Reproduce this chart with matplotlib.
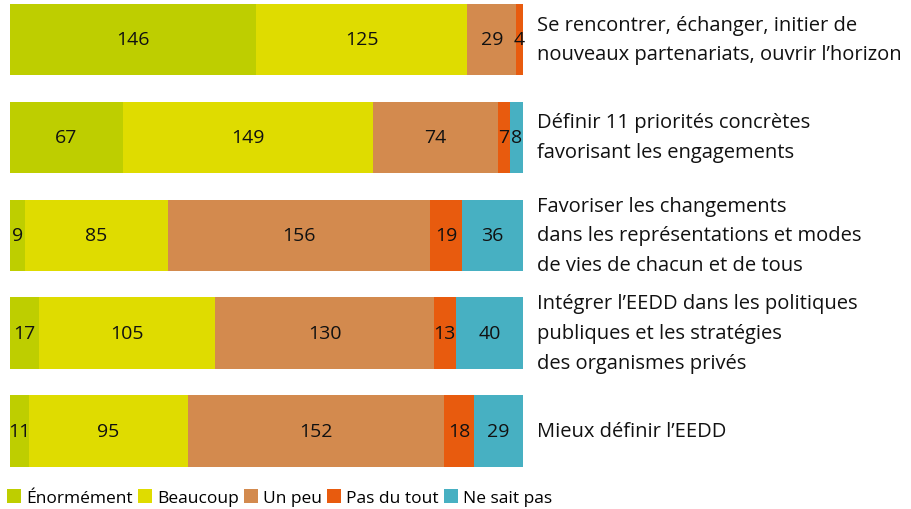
import matplotlib
matplotlib.use("Agg")
import matplotlib.pyplot as plt
from matplotlib.patches import Patch
import numpy as np

plt.rcParams['font.family'] = ['Open Sans', 'DejaVu Sans']

categories = [
    "Se rencontrer, échanger, initier de\nnouveaux partenariats, ouvrir l’horizon",
    "Définir 11 priorités concrètes\nfavorisant les engagements",
    "Favoriser les changements\ndans les représentations et modes\nde vies de chacun et de tous",
    "Intégrer l’EEDD dans les politiques\npubliques et les stratégies\ndes organismes privés",
    "Mieux définir l’EEDD",
]
series_names = ["Énormément", "Beaucoup", "Un peu", "Pas du tout", "Ne sait pas"]
enormement = [146, 67, 9, 17, 11]
beaucoup = [125, 149, 85, 105, 95]
un_peu = [29, 74, 156, 130, 152]
pas_du_tout = [4, 7, 19, 13, 18]
ne_sait_pas = [0, 8, 36, 40, 29]
colors = ["#BECE00", "#DFDC00", "#D38A4E", "#E85B0E", "#47B0C2"]

data = np.array([enormement, beaucoup, un_peu, pas_du_tout, ne_sait_pas], dtype=float)
totals = data.sum(axis=0)
pct = data / totals * 100

fig = plt.figure(figsize=(9.11, 5.10), dpi=100)
ax = fig.add_axes([10/911, 1 - 480/510, 513/911, 480/510])
y = np.arange(len(categories))
left = np.zeros(len(categories))
for i, name in enumerate(series_names):
    ax.barh(y, pct[i], left=left, height=0.73, color=colors[i], label=name)
    for j in range(len(categories)):
        if data[i, j] > 0:
            ax.text(left[j] + pct[i, j] / 2, y[j], f"{int(data[i, j])}",
                    ha='center', va='center', fontsize=14, color='#111111')
    left += pct[i]

ax.set_xlim(0, 100)
ax.set_ylim(4 + 48/97.9, -40.5/97.9)
ax.axis('off')

for j, cat in enumerate(categories):
    ax.text(102.7, y[j], cat, ha='left', va='center', fontsize=14.5,
            color='#111111', linespacing=1.65, clip_on=False)

handles = [Patch(facecolor=c, edgecolor='none', label=n) for c, n in zip(colors, series_names)]
fig.legend(handles=handles, loc='lower left', bbox_to_anchor=(0.0, -0.008), ncol=5,
           frameon=False, fontsize=12.5, handlelength=0.8, handleheight=0.9,
           handletextpad=0.3, columnspacing=0.3, borderaxespad=0.0)

fig.savefig("out.png", dpi=100)
